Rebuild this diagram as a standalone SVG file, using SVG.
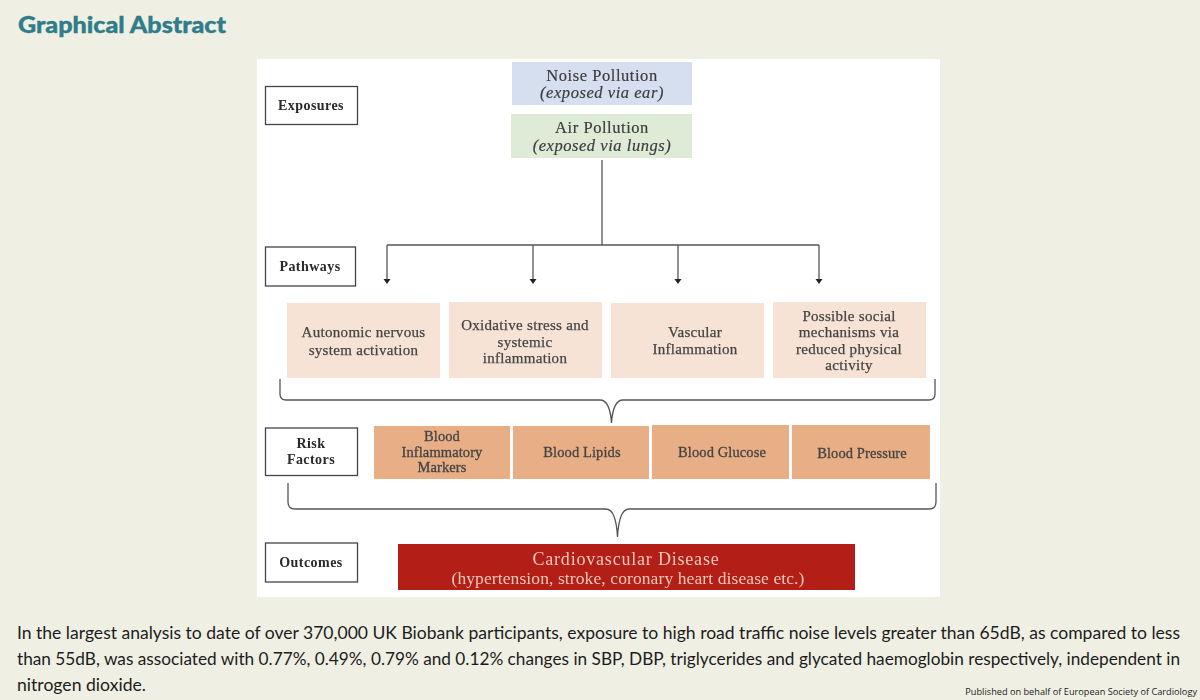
<svg xmlns="http://www.w3.org/2000/svg" width="1200" height="700" viewBox="0 0 1200 700">
<defs>
<filter id="soft" x="-5%" y="-20%" width="110%" height="140%"><feGaussianBlur stdDeviation="0.35"/></filter>
<style>
.s{font-family:"Liberation Serif","Times New Roman",serif;text-anchor:middle;fill:#3a3a3a;filter:url(#soft)}
.lab{font-weight:bold;font-size:14px;letter-spacing:0.45px;fill:#2a2a2a}
.p{font-size:15px;letter-spacing:0.3px;fill:#444;stroke:#444;stroke-width:0.25}
.r{font-size:14.5px;letter-spacing:0.1px;fill:#444;stroke:#444;stroke-width:0.3}
.n{font-size:16.5px;letter-spacing:0.55px;fill:#3d3d3d;stroke:#3d3d3d;stroke-width:0.2}
.c{stroke:#555;stroke-width:1.3;fill:none}
.box{fill:#fff;stroke:#444;stroke-width:1.3}
.pw{fill:#f6e3d6}
.rf{fill:#e8ae85}
.body{font-family:Lato,"Open Sans",sans-serif;font-size:17.2px;fill:#1c1c1c}
</style>
</defs>
<rect width="1200" height="700" fill="#f0efe4"/>
<text x="18" y="33" font-family="Lato,'Open Sans',sans-serif" font-weight="900" font-size="22.5" fill="#2f7d8a" stroke="#2f7d8a" stroke-width="0.4" textLength="208" lengthAdjust="spacingAndGlyphs">Graphical Abstract</text>
<rect x="257" y="59" width="683" height="538" fill="#fff"/>

<g id="connectors">
<path class="c" d="M602 160 V245"/>
<path class="c" d="M387 245 H819"/>
<path class="c" d="M387 245 V280"/><path d="M383.500 279 H390.500 L387 284 Z" fill="#222"/>
<path class="c" d="M533 245 V280"/><path d="M529.500 279 H536.500 L533 284 Z" fill="#222"/>
<path class="c" d="M678 245 V280"/><path d="M674.500 279 H681.500 L678 284 Z" fill="#222"/>
<path class="c" d="M819 245 V280"/><path d="M815.500 279 H822.500 L819 284 Z" fill="#222"/>
<path class="c" d="M280 379 V394 Q280 400 286 400 H600 Q610 400 611.500 423 Q613 400 623 400 H929 Q935 400 935 394 V379"/>
<path class="c" d="M288 483 V502 Q288 509 295 509 H606 Q616 509 617.500 537 Q619 509 629 509 H929 Q936 509 936 502 V483"/>
</g>

<g id="exposures"><rect class="box" x="265.500" y="86.500" width="92" height="38"/><text class="s lab" x="311" y="110">Exposures</text></g>
<g id="pathways"><rect class="box" x="265.500" y="247" width="90" height="39"/><text class="s lab" x="310" y="271">Pathways</text></g>
<g id="risk-factors"><rect class="box" x="265.500" y="428" width="92" height="47.500"/><text class="s lab" x="311" y="448">Risk</text><text class="s lab" x="311" y="464">Factors</text></g>
<g id="outcomes"><rect class="box" x="265.500" y="543" width="92" height="39"/><text class="s lab" x="311" y="567">Outcomes</text></g>

<g id="noise"><rect x="512" y="62" width="180" height="43" fill="#d6dff0"/><text class="s n" x="602" y="80.500">Noise Pollution</text><text class="s n" x="602" y="98" font-style="italic">(exposed via ear)</text></g>
<g id="air"><rect x="511" y="114" width="181" height="44" fill="#deebd6"/><text class="s n" x="602" y="133">Air Pollution</text><text class="s n" x="602" y="151" font-style="italic">(exposed via lungs)</text></g>

<g id="autonomic"><rect class="pw" x="287" y="303" width="153" height="75"/><text class="s p" x="363.500" y="337">Autonomic nervous</text><text class="s p" x="363.500" y="355">system activation</text></g>
<g id="oxidative"><rect class="pw" x="449" y="302" width="153" height="76"/><text class="s p" x="525" y="330">Oxidative stress and</text><text class="s p" x="525" y="347">systemic</text><text class="s p" x="525" y="363">inflammation</text></g>
<g id="vascular"><rect class="pw" x="611" y="303" width="153" height="75"/><text class="s p" x="695" y="337">Vascular</text><text class="s p" x="695" y="354">Inflammation</text></g>
<g id="social"><rect class="pw" x="773" y="302" width="153" height="76"/><text class="s p" x="849" y="321">Possible social</text><text class="s p" x="849" y="337">mechanisms via</text><text class="s p" x="849" y="354">reduced physical</text><text class="s p" x="849" y="370">activity</text></g>

<g id="inflammatory"><rect class="rf" x="374" y="426" width="136" height="53"/><text class="s r" x="442" y="441">Blood</text><text class="s r" x="442" y="457">Inflammatory</text><text class="s r" x="442" y="472">Markers</text></g>
<g id="lipids"><rect class="rf" x="513" y="426" width="136" height="53"/><text class="s r" x="582" y="457">Blood Lipids</text></g>
<g id="glucose"><rect class="rf" x="652" y="425" width="137" height="54"/><text class="s r" x="722" y="457">Blood Glucose</text></g>
<g id="pressure"><rect class="rf" x="792" y="425" width="138" height="54"/><text class="s r" x="862" y="458">Blood Pressure</text></g>

<g id="cvd"><rect x="398" y="544" width="457" height="46" fill="#b31f17"/><text class="s" x="626" y="565" font-size="18" letter-spacing="0.8" style="fill:#edc9ba">Cardiovascular Disease</text><text class="s" x="628" y="584" font-size="17.500" letter-spacing="0.1" style="fill:#edc9ba">(hypertension, stroke, coronary heart disease etc.)</text></g>

<text class="body" x="17" y="639" textLength="1163" lengthAdjust="spacingAndGlyphs">In the largest analysis to date of over 370,000 UK Biobank participants, exposure to high road traffic noise levels greater than 65dB, as compared to less</text>
<text class="body" x="17" y="665" textLength="1163" lengthAdjust="spacingAndGlyphs">than 55dB, was associated with 0.77%, 0.49%, 0.79% and 0.12% changes in SBP, DBP, triglycerides and glycated haemoglobin respectively, independent in</text>
<text class="body" x="17" y="691" textLength="129" lengthAdjust="spacingAndGlyphs">nitrogen dioxide.</text>
<text x="1197" y="695" text-anchor="end" font-family="'Open Sans','Noto Sans',sans-serif" font-size="9.200" fill="#222">Published on behalf of European Society of Cardiology</text>
</svg>
